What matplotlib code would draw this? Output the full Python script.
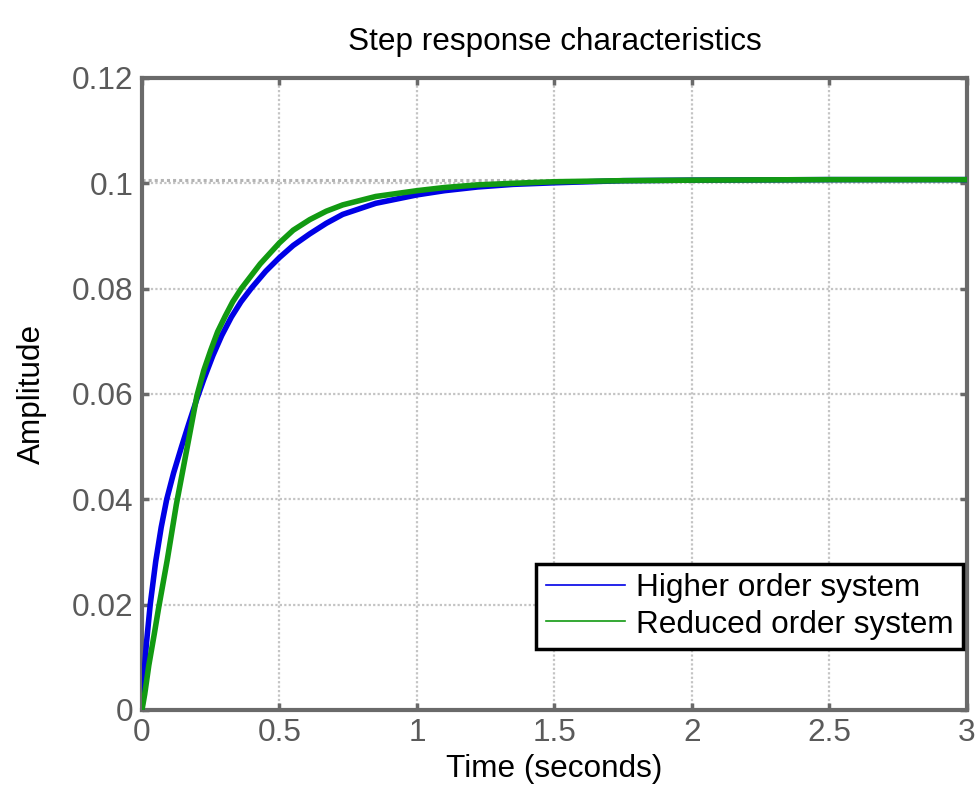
import matplotlib
matplotlib.use('Agg')
import matplotlib.pyplot as plt

plt.rcParams['font.family'] = ['Liberation Sans', 'DejaVu Sans']

# values
t_high = [0, 0.005, 0.010, 0.016, 0.030, 0.050, 0.070, 0.090, 0.115, 0.144, 0.170,
          0.200, 0.225, 0.258, 0.290, 0.325, 0.360, 0.398, 0.45, 0.50, 0.55, 0.61, 0.67,
          0.73, 0.85, 1.00, 1.10, 1.22, 1.35, 1.50, 1.75, 2.00, 2.50, 3.00]
y_high = [0, 0.0045, 0.0085, 0.0125, 0.0200, 0.0282, 0.0347, 0.0400, 0.0450, 0.0500, 0.0543,
          0.0591, 0.0628, 0.0673, 0.0711, 0.0746, 0.0775, 0.0801, 0.0833, 0.0859, 0.0882, 0.0904,
          0.0924, 0.0941, 0.0962, 0.0978, 0.0986, 0.0993, 0.0998, 0.1001, 0.1005, 0.1006,
          0.1007, 0.1007]

t_red = [0, 0.010, 0.025, 0.045, 0.061, 0.092, 0.125, 0.162, 0.200, 0.225, 0.250, 0.275,
         0.303, 0.330, 0.361, 0.43, 0.50, 0.55, 0.61, 0.67, 0.73, 0.85, 1.00, 1.10, 1.22,
         1.35, 1.50, 1.75, 2.00, 2.50, 3.00]
y_red = [0, 0.0030, 0.0085, 0.0145, 0.0195, 0.0285, 0.0390, 0.0492, 0.0597, 0.0645, 0.0683, 0.0718,
         0.0748, 0.0775, 0.0800, 0.0847, 0.0887, 0.0911, 0.0931, 0.0947, 0.0959, 0.0975, 0.0986,
         0.0992, 0.0997, 0.1000, 0.1003, 0.1005, 0.1006, 0.1007, 0.1007]

steady_state = 0.1007
labels = ['Higher order system', 'Reduced order system']
x_ticks = [0, 0.5, 1, 1.5, 2, 2.5, 3]
x_ticklabels = ['0', '0.5', '1', '1.5', '2', '2.5', '3']
y_ticks = [0, 0.02, 0.04, 0.06, 0.08, 0.1, 0.12]
y_ticklabels = ['0', '0.02', '0.04', '0.06', '0.08', '0.1', '0.12']

fs = 22.7

fig = plt.figure(figsize=(9.75, 7.9), dpi=100)
ax = fig.add_axes([0.1456, 0.1013, 0.8462, 0.8])

spine_col = '#6a6a6a'
ax.grid(True, color='#c4c4c4', linestyle=(0, (1, 1)), linewidth=1.6)
ax.axhline(steady_state, color='#b4b4b4', linestyle=(0, (1, 1)), linewidth=2.2, zorder=1.5)

ax.plot(t_high, y_high, color='#0000e6', linewidth=4, label=labels[0], zorder=3,
        solid_joinstyle='round')
ax.plot(t_red, y_red, color='#129a12', linewidth=4, label=labels[1], zorder=4,
        solid_joinstyle='round')

ax.set_xlim(0, 3)
ax.set_ylim(0, 0.12)
ax.set_xticks(x_ticks)
ax.set_xticklabels(x_ticklabels)
ax.set_yticks(y_ticks)
ax.set_yticklabels(y_ticklabels)
ax.tick_params(direction='in', length=5, width=2.5, color=spine_col, labelcolor='#5a5a5a',
               labelsize=fs, top=True, right=True, pad=6)
for s in ax.spines.values():
    s.set_color(spine_col)
    s.set_linewidth(3)

ax.set_title('Step response characteristics', fontsize=fs, pad=20)
ax.set_xlabel('Time (seconds)', fontsize=fs, labelpad=4)
ax.set_ylabel('Amplitude', fontsize=fs, labelpad=18)

leg = ax.legend(loc='lower right', bbox_to_anchor=(0.995, 0.0965), borderaxespad=0,
                fontsize=fs, fancybox=False, framealpha=1, edgecolor='black',
                handlelength=2.5, handletextpad=0.35, labelspacing=0.2, borderpad=0.3)
leg.get_frame().set_linewidth(2.5)
for line in leg.get_lines():
    line.set_linewidth(1.2)

fig.savefig('out.png', dpi=100)
